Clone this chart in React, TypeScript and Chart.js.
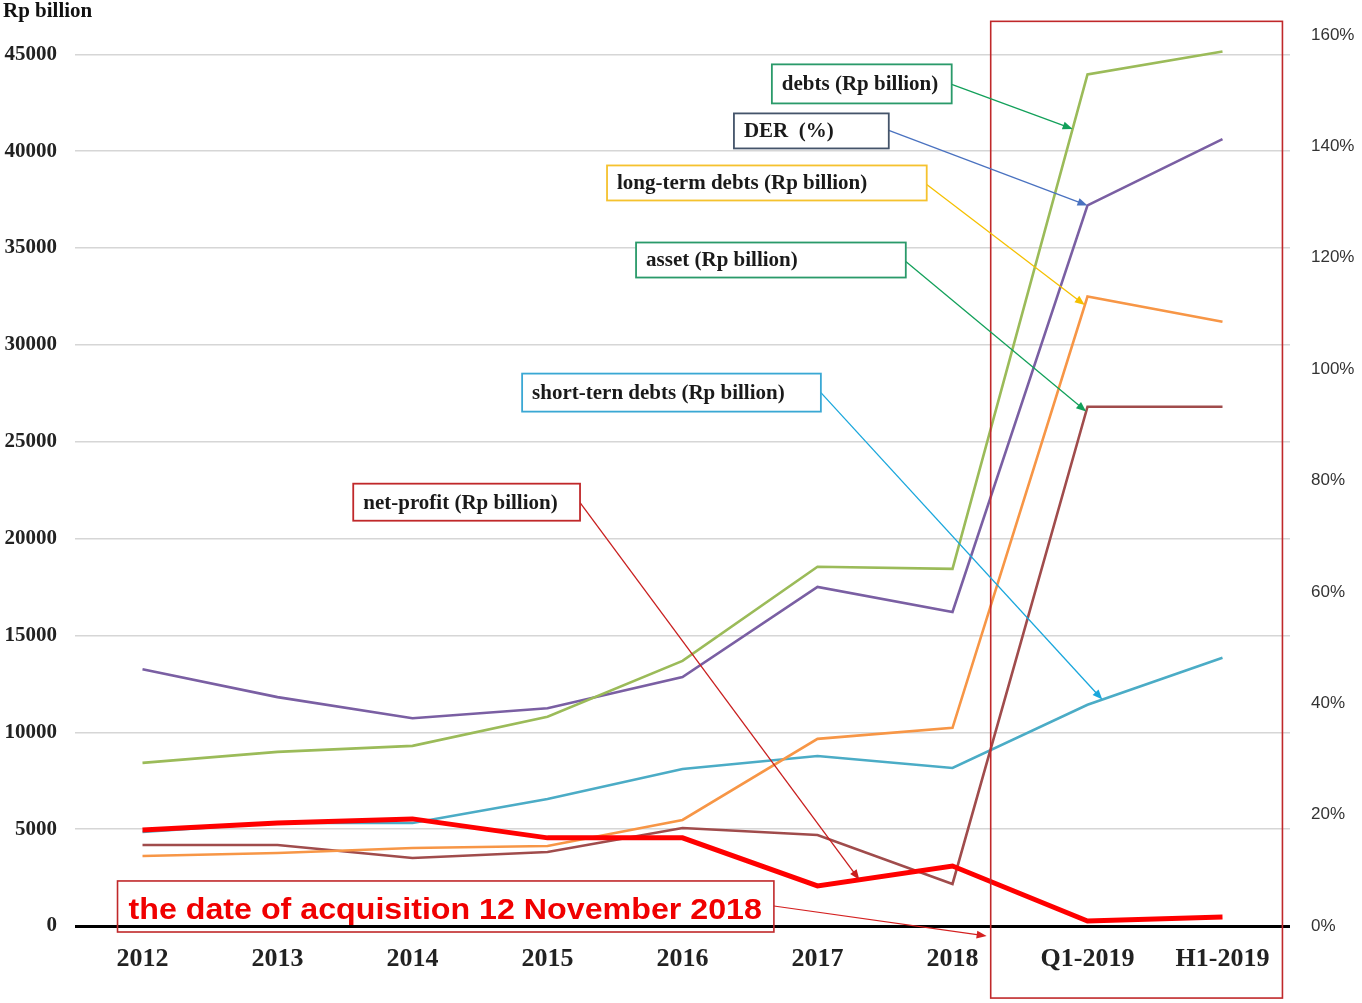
import React, { useEffect, useRef } from 'react';
import { Chart, registerables } from 'chart.js';

Chart.register(...registerables);

// ---------- data ----------
const categories = ['2012', '2013', '2014', '2015', '2016', '2017', '2018', 'Q1-2019', 'H1-2019'];
const debts = [8420, 8990, 9300, 10800, 13690, 18550, 18440, 43960, 45150];
const derPercent = [46.1, 41.1, 37.3, 39.1, 44.7, 60.9, 56.4, 129.4, 141.3];
const longTermDebts = [3616, 3771, 4030, 4133, 5476, 9660, 10230, 32500, 31200];
const asset = [4180, 4180, 3510, 3820, 5060, 4700, 2170, 26810, 26810];
const shortTermDebts = [4860, 5320, 5320, 6560, 8110, 8780, 8160, 11420, 13850];
const netProfit = [4960, 5320, 5530, 4550, 4550, 2070, 3100, 260, 465];

const leftTicks = [0, 5000, 10000, 15000, 20000, 25000, 30000, 35000, 40000, 45000];
const rightTicks = [0, 20, 40, 60, 80, 100, 120, 140, 160];

const leftAxisTitle = 'Rp billion';
const acquisitionText = 'the date of acquisition 12 November 2018';

// ---------- callout annotations (data coordinates: category index, left-axis value) ----------
type Callout = {
  text: string;
  values: number[];
  axis: 'y' | 'y1';
  box: [number, number, number, number];
  from: [number, number];
  tip: number;
  border: string;
  arrow: string;
};

const callouts: Callout[] = [
  { text: 'debts (Rp billion)', values: debts, axis: 'y', box: [4.662, 5.994, 44484, 42468], from: [5.994, 43450], tip: 6.89, border: '#2a9a6a', arrow: '#12a05a' },
  { text: 'DER  (%)', values: derPercent, axis: 'y1', box: [4.381, 5.528, 41952, 40144], from: [5.528, 41074], tip: 7.0, border: '#44546a', arrow: '#4a72c0' },
  { text: 'long-term debts (Rp billion)', values: longTermDebts, axis: 'y', box: [3.441, 5.809, 39265, 37457], from: [5.809, 38283], tip: 6.98, border: '#f5c22e', arrow: '#f5c000' },
  { text: 'asset (Rp billion)', values: asset, axis: 'y', box: [3.656, 5.654, 35287, 33479], from: [5.654, 34306], tip: 6.99, border: '#2a9a6a', arrow: '#12a05a' },
  { text: 'short-tern debts (Rp billion)', values: shortTermDebts, axis: 'y', box: [2.812, 5.025, 28519, 26556], from: [5.025, 27537], tip: 7.11, border: '#3aa8d4', arrow: '#1aa7dc' },
  { text: 'net-profit (Rp billion)', values: netProfit, axis: 'y', box: [1.561, 3.241, 22836, 20924], from: [3.241, 21854], tip: 5.31, border: '#c0282a', arrow: '#c81e1e' },
];

const acquisitionBox: [number, number, number, number] = [-0.185, 4.677, 2325, -310];
const acquisitionArrow: [number, number, number, number] = [4.677, 1033, 6.253, -517];
const highlightRect: [number, number, number, number] = [6.283, 8.444, 46705, -3720];

function interp(values: number[], t: number) {
  const i = Math.max(0, Math.min(values.length - 2, Math.floor(t)));
  const f = t - i;
  return values[i] + (values[i + 1] - values[i]) * f;
}

function drawArrow(ctx: CanvasRenderingContext2D, x0: number, y0: number, x1: number, y1: number, color: string, width = 1.3) {
  const ang = Math.atan2(y1 - y0, x1 - x0);
  const len = 10;
  const hw = 4;
  ctx.save();
  ctx.strokeStyle = color;
  ctx.fillStyle = color;
  ctx.lineWidth = width;
  ctx.beginPath();
  ctx.moveTo(x0, y0);
  ctx.lineTo(x1 - Math.cos(ang) * len * 0.8, y1 - Math.sin(ang) * len * 0.8);
  ctx.stroke();
  ctx.beginPath();
  ctx.moveTo(x1, y1);
  ctx.lineTo(x1 - Math.cos(ang) * len + Math.sin(ang) * hw, y1 - Math.sin(ang) * len - Math.cos(ang) * hw);
  ctx.lineTo(x1 - Math.cos(ang) * len - Math.sin(ang) * hw, y1 - Math.sin(ang) * len + Math.cos(ang) * hw);
  ctx.closePath();
  ctx.fill();
  ctx.restore();
}

const annotationPlugin = {
  id: 'annotations',
  afterDatasetsDraw(chart: any) {
    const ctx: CanvasRenderingContext2D = chart.ctx;
    const xs = chart.scales.x;
    const ys = chart.scales.y;
    const X = (v: number) => xs.getPixelForValue(v);
    const Y = (v: number) => ys.getPixelForValue(v);

    // highlight rectangle
    ctx.save();
    ctx.strokeStyle = '#c0282a';
    ctx.lineWidth = 1.6;
    ctx.strokeRect(X(highlightRect[0]), Y(highlightRect[2]), X(highlightRect[1]) - X(highlightRect[0]), Y(highlightRect[3]) - Y(highlightRect[2]));
    ctx.restore();

    // callouts
    callouts.forEach((c) => {
      const bx0 = X(c.box[0]);
      const bx1 = X(c.box[1]);
      const by0 = Y(c.box[2]);
      const by1 = Y(c.box[3]);
      const tx = X(c.tip);
      const tScale = chart.scales[c.axis];
      const ty = tScale.getPixelForValue(interp(c.values, c.tip));
      drawArrow(ctx, X(c.from[0]), Y(c.from[1]), tx, ty, c.arrow);
      ctx.save();
      ctx.fillStyle = '#ffffff';
      ctx.fillRect(bx0, by0, bx1 - bx0, by1 - by0);
      ctx.strokeStyle = c.border;
      ctx.lineWidth = 1.8;
      ctx.strokeRect(bx0, by0, bx1 - bx0, by1 - by0);
      ctx.fillStyle = '#1a1a1a';
      ctx.font = 'bold 21px "Liberation Serif"';
      ctx.textBaseline = 'middle';
      ctx.textAlign = 'left';
      ctx.fillText(c.text, bx0 + 10, (by0 + by1) / 2 + 1);
      ctx.restore();
    });

    // acquisition box
    const ax0 = X(acquisitionBox[0]);
    const ax1 = X(acquisitionBox[1]);
    const ay0 = Y(acquisitionBox[2]);
    const ay1 = Y(acquisitionBox[3]);
    drawArrow(ctx, X(acquisitionArrow[0]), Y(acquisitionArrow[1]), X(acquisitionArrow[2]), Y(acquisitionArrow[3]), '#d42020', 1.2);
    ctx.save();
    ctx.strokeStyle = '#c0282a';
    ctx.lineWidth = 1.6;
    ctx.strokeRect(ax0, ay0, ax1 - ax0, ay1 - ay0);
    const size = 30;
    ctx.font = `bold ${size}px "Liberation Sans"`;
    const target = ax1 - ax0 - 23;
    const w = ctx.measureText(acquisitionText).width;
    const sx = target / w;
    ctx.fillStyle = '#f00000';
    ctx.textBaseline = 'alphabetic';
    ctx.textAlign = 'left';
    ctx.translate(ax0 + 11, Y(0) - 7);
    ctx.scale(sx, 1);
    ctx.fillText(acquisitionText, 0, 0);
    ctx.restore();

    // left axis title
    ctx.save();
    ctx.fillStyle = '#111';
    ctx.font = 'bold 21px "Liberation Serif"';
    ctx.textBaseline = 'middle';
    ctx.textAlign = 'left';
    ctx.fillText(leftAxisTitle, 3, chart.chartArea.top - 23);
    ctx.restore();
  },
};

export default function App() {
  const ref = useRef<HTMLCanvasElement | null>(null);

  useEffect(() => {
    if (!ref.current) return;
    const lineDs = (label: string, data: number[], color: string, width: number, axis = 'y') => ({
      label,
      data,
      borderColor: color,
      backgroundColor: color,
      borderWidth: width,
      pointRadius: 0,
      tension: 0,
      fill: false,
      yAxisID: axis,
    });
    const chart = new Chart(ref.current, {
      type: 'line',
      data: {
        labels: categories,
        datasets: [
          lineDs('net-profit (Rp billion)', netProfit, '#ff0000', 5),
          lineDs('debts (Rp billion)', debts, '#9bbb59', 2.6),
          lineDs('DER (%)', derPercent, '#7a5fa3', 2.6, 'y1'),
          lineDs('long-term debts (Rp billion)', longTermDebts, '#f79646', 2.6),
          lineDs('asset (Rp billion)', asset, '#a04c4c', 2.6),
          lineDs('short-tern debts (Rp billion)', shortTermDebts, '#4bacc6', 2.6),
        ] as any,
      },
      options: {
        animation: false,
        responsive: false,
        maintainAspectRatio: false,
        layout: { padding: { top: 35, left: 0, right: 0, bottom: 0 } },
        plugins: { legend: { display: false }, title: { display: false }, tooltip: { enabled: false } },
        scales: {
          x: {
            type: 'category',
            offset: true,
            grid: { display: false, drawTicks: false },
            border: { display: false },
            ticks: {
              color: '#222',
              font: { family: 'Liberation Serif', size: 26, weight: 'bold' },
              padding: 18,
              maxRotation: 0,
              autoSkip: false,
            },
            afterFit: (s: any) => { s.height = 77; },
          },
          y: {
            type: 'linear',
            position: 'left',
            min: 0,
            max: 46000,
            afterBuildTicks: (s: any) => { s.ticks = leftTicks.map((v) => ({ value: v })); },
            grid: {
              drawTicks: false,
              color: (c: any) => (c.tick && c.tick.value === 0 ? '#000000' : '#d6d6d6'),
              lineWidth: (c: any) => (c.tick && c.tick.value === 0 ? 3 : 1.5),
            },
            border: { display: false },
            ticks: {
              color: '#222',
              font: { family: 'Liberation Serif', size: 21, weight: 'bold' },
              padding: 18,
              callback: (v: any) => String(v),
            },
            afterFit: (s: any) => { s.width = 75; },
          },
          y1: {
            type: 'linear',
            position: 'right',
            min: 0,
            max: 160,
            afterBuildTicks: (s: any) => { s.ticks = rightTicks.map((v) => ({ value: v })); },
            grid: { display: false, drawTicks: false },
            border: { display: false },
            ticks: {
              color: '#333',
              font: { family: 'Liberation Sans', size: 17 },
              padding: 21,
              callback: (v: any) => `${v}%`,
            },
            afterFit: (s: any) => { s.width = 72; },
          },
        },
      } as any,
      plugins: [annotationPlugin],
    });
    return () => chart.destroy();
  }, []);

  return (
    <div style={{ position: 'absolute', left: 0, top: 0, width: 1362, height: 1003, background: '#fff' }}>
      <canvas ref={ref} width={1362} height={1003} style={{ display: 'block', width: 1362, height: 1003 }} />
    </div>
  );
}
